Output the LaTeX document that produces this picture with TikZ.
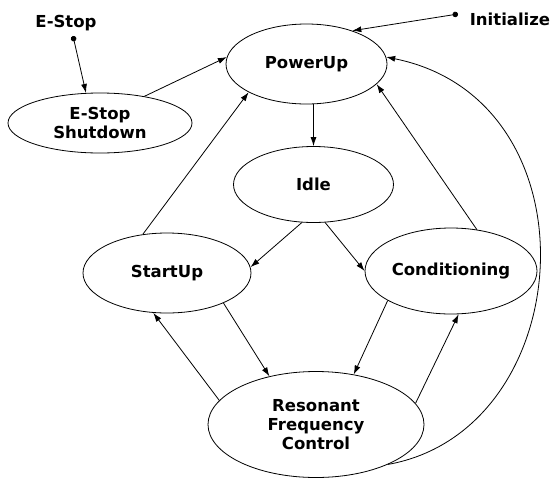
\documentclass[tikz,border=0pt]{standalone}
\usepackage{fontspec}
\setmainfont{DejaVu Sans}
\usetikzlibrary{shapes.geometric,arrows.meta}
\begin{document}
\begin{tikzpicture}[x=1pt,y=-1pt,
  font=\bfseries\fontsize{16.5}{19}\selectfont,
  state/.style={draw,ellipse,line width=0.8pt,inner sep=0pt,align=center},
  trans/.style={draw,line width=0.8pt,-{Latex[length=9pt,width=6pt]}},
  entry/.style={draw,line width=0.8pt,{Circle[length=5.5pt]}-{Latex[length=9pt,width=6pt]}},
  lbl/.style={inner sep=0pt}]
\useasboundingbox (0,0) rectangle (554,480);

% states
\node[state,minimum width=161pt,minimum height=80pt] (P) at (306.5,64) {PowerUp};
\node[state,minimum width=184pt,minimum height=60pt] (ESS) at (100,123) {E-Stop\\Shutdown};
\node[state,minimum width=160pt,minimum height=76pt] (I) at (313.5,184.5) {Idle};
\node[state,minimum width=168pt,minimum height=80pt] (S) at (167,273) {StartUp};
\node[state,minimum width=172pt,minimum height=86pt] (C) at (451,271) {Conditioning};
\node[state,minimum width=216pt,minimum height=106pt] (R) at (316,424.5) {Resonant\\Frequency\\Control};

% external events
\node[lbl] (estop) at (66,23) {E-Stop};
\node[lbl] (init) at (510,19.5) {Initialize};
\coordinate (estopdot) at (73,36);
\coordinate (initdot) at (458,14);

% entry transitions
\draw[entry] (estopdot) -- (ESS.115.8);
\draw[entry] (initdot) -- (P.36.8);

% transitions between states
\draw[trans] (ESS.31.8) -- (P.175);
\draw[trans] (P.south -| I.north) -- (I.north);
\draw[trans] (S.122) -- (P.206.4);
\draw[trans] (I.-107) -- (S.4.8);
\draw[trans] (I.-73) -- (C.180.7);
\draw[trans] (C.58.8) -- (P.-16);
\draw[trans] (S.-28.2) -- (R.134.7);
\draw[trans] (R.166) -- (S.-109.3);
\draw[trans] (C.-155.3) -- (R.53.6);
\draw[trans] (R.12.8) -- (C.-80.8);
\draw[trans] (R.-29) .. controls (580,430) and (600,100) .. (P.5);
\end{tikzpicture}
\end{document}
